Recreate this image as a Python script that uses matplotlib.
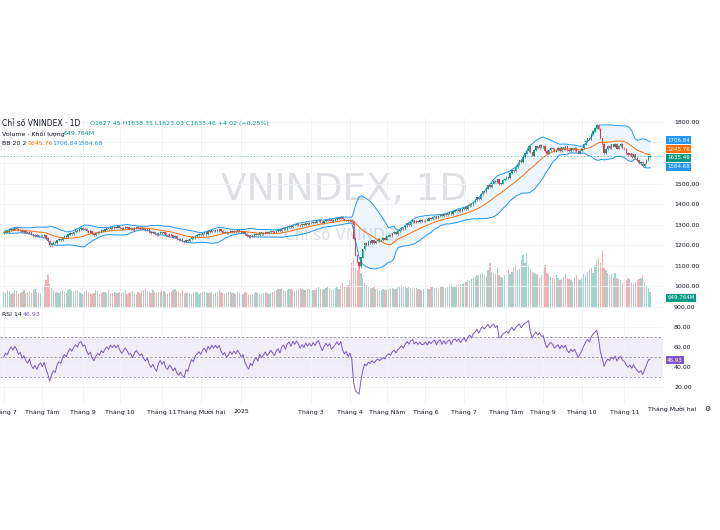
import numpy as np
import matplotlib
matplotlib.use("Agg")
import matplotlib.pyplot as plt

closes = [
1262,1268,1266,1274,1280,1276,1283,1279,1272,1275,1266,1270,1262,1258,1264,1252,1246,1250,1242,1248,1251,
1244,1250,1236,1222,1198,1208,1215,1210,1224,1230,1226,1238,1245,1240,1252,1260,1255,1265,1272,1268,1280,1284,
1276,1280,1270,1262,1268,1256,1250,1259,1265,1262,1272,1268,1276,1282,1278,1288,1284,1290,1286,1292,
1285,1279,1284,1290,1286,1280,1282,1275,1283,1288,1284,1280,1283,1276,1272,1276,1266,1260,1264,1256,1250,1260,1265,
1258,1262,1250,1246,1252,1248,1240,1244,1232,1226,1230,1220,1216,1226,1222,1232,1240,1236,1246,1250,1254,
1250,1258,1262,1256,1268,1264,1272,1268,1274,1270,1276,1268,1262,1266,1258,1262,1268,1264,1270,1266,1272,1268,
1262,1266,1254,1246,1240,1248,1244,1252,1256,1250,1262,1256,1260,1266,1260,1264,1270,1266,
1262,1270,1274,1268,1280,1284,1278,1290,1294,1288,1300,1296,1304,1300,1294,1302,1298,1308,1304,1310,
1306,1314,1310,1318,1322,1314,1308,1318,1324,1320,1326,1318,1322,1328,1334,1330,1338,1326,1320,1324,1316,
1322,1312,1230,1150,1120,1095,1140,1180,1212,1200,1218,1210,1224,1212,1220,1230,1222,1226,1234,1228,
1242,1250,1244,1258,1264,1256,1268,1276,1284,1278,1294,1306,1300,1314,1320,1310,1318,1312,1322,1316,1318,
1326,1320,1332,1328,1336,1340,1332,1342,1348,1340,1352,1346,1354,1360,1352,1364,1370,1366,1374,1368,1376,
1384,1378,1392,1400,1396,1412,1420,1432,1426,1448,1462,1458,1476,1490,1484,1500,1512,1506,1520,1496,1500,1516,1522,
1532,1528,1550,1566,1560,1580,1596,1612,1604,1628,1646,1660,1680,1652,1636,1662,1680,1672,1688,1678,
1682,1660,1646,1662,1674,1668,1656,1664,1672,1660,1676,1668,1680,1664,1658,1670,1664,1672,1660,1648,1660,
1672,1690,1706,1720,1714,1740,1756,1770,1786,1764,1720,1692,1648,1668,1682,1674,1690,1680,1694,1670,1684,1692,1674,
1668,1650,1638,1646,1630,1642,1624,1612,1600,1606,1584,1598,1614,1631.44,1635.46]

volumes = [
620,580,700,650,540,600,720,680,560,610,640,700,590,620,660,580,700,750,640,600,580,
720,900,1100,1300,950,800,700,650,620,600,680,720,640,600,700,750,680,620,660,700,640,
600,560,620,700,650,580,540,600,720,680,560,600,640,620,580,700,560,600,620,580,
600,640,580,620,700,560,600,640,680,600,560,620,580,660,700,740,680,620,600,700,640,600,620,
640,700,680,600,560,580,620,700,740,680,640,600,700,560,600,620,580,540,600,620,640,
560,600,620,680,640,600,580,620,560,600,640,700,620,580,560,600,640,620,580,600,560,620,
600,560,540,620,580,500,520,560,600,620,580,560,540,600,620,580,560,600,
620,680,700,740,760,800,720,680,700,760,740,700,680,720,760,800,740,700,720,760,
760,800,720,700,780,820,740,700,760,800,860,780,720,760,800,820,760,900,1000,880,820,
900,1100,1800,2000,1600,1500,1700,1400,1200,1000,900,850,800,780,820,760,740,720,700,760,
700,720,760,780,800,740,760,820,860,900,880,840,800,820,780,760,800,780,740,760,720,
740,780,800,760,820,840,800,780,760,820,860,840,800,820,860,900,880,860,900,920,940,
960,1000,1050,1100,1080,1150,1200,1250,1300,1280,1350,1400,1300,1250,1500,1800,1450,1400,1350,1600,1300,1250,1200,
1300,1400,1500,1350,1450,1600,1700,1500,1550,1900,2100,1800,2200,1700,1500,1450,1400,1350,1300,1250,
1300,1500,1700,1400,1300,1250,1200,1150,1300,1200,1100,1150,1250,1350,1200,1150,1100,1050,1200,1300,1150,
1100,1200,1350,1300,1450,1500,1600,1400,1700,1900,2000,1800,2300,1600,1500,1400,1300,1350,1250,1400,1200,1150,1100,
1000,1050,1100,1200,1150,1000,950,1050,1100,1150,1200,1300,1050,900,800,649.764]

month_pos = [0,21,43,63,86,107,129,167,188,208,229,250,273,293,314,337]
month_labels = ["Tháng 7","Tháng Tám","Tháng 9","Tháng 10","Tháng 11","Tháng Mười hai","2025",
                "Tháng 3","Tháng 4","Tháng Năm","Tháng 6","Tháng 7","Tháng Tám","Tháng 9","Tháng 10","Tháng 11"]
price_ticks = [900, 1000, 1100, 1200, 1300, 1400, 1500, 1800]

bb_last = {"basis": "1645.76", "upper": "1706.84", "lower": "1584.68"}
rsi_last = "46.93"
vol_last = "649.764M"

c = np.array(closes, float)
n = len(c)
vol = np.array(volumes[:n], float)
o = np.r_[c[0]-4, c[:-1]]
o[-1] = 1627.45
hi = np.maximum(o, c) + 4
lo = np.minimum(o, c) - 4
x = np.arange(n)
up = c >= o
UP, DN = "#089981", "#f23645"

basis = np.array([c[max(0,i-19):i+1].mean() for i in range(n)])
sd = np.array([c[max(0,i-19):i+1].std() for i in range(n)])
ub, lb = basis + 2*sd, basis - 2*sd
d = np.diff(c, prepend=c[0])
g, l = np.clip(d,0,None), np.clip(-d,0,None)
ag = np.zeros(n); al = np.zeros(n)
ag[0], al[0] = 3, 3
for i in range(1, n):
    ag[i] = (ag[i-1]*13 + g[i])/14
    al[i] = (al[i-1]*13 + l[i])/14
rsi = 100 - 100/(1 + ag/np.maximum(al, 1e-9))

W, H = 720, 530
fig = plt.figure(figsize=(W/100, H/100), dpi=100)
plt.rcParams['font.family'] = ['DejaVu Sans']
L, R = 0.0, 663/W
ax = fig.add_axes([L, 1-308/H, R-L, (308-118)/H])
axr = fig.add_axes([L, 1-405/H, R-L, (405-310)/H], sharex=ax)
axv = ax.twinx()

for a in (ax, axr):
    a.set_facecolor("none")
    for s in a.spines.values():
        s.set_visible(False)
    a.grid(color="#f0f3fa", lw=0.6)
    a.tick_params(length=0, labelsize=4.5, colors="#131722", labelleft=False, labelright=True, pad=8)
    a.yaxis.set_label_position("right")

axv.set_ylim(0, vol.max()*3.3)
axv.bar(x, vol, width=0.7, color=np.where(up, UP, DN), alpha=0.4, zorder=0)
axv.axis("off")
ax.set_zorder(axv.get_zorder()+1)

ax.text(0.52, 0.62, "VNINDEX, 1D", transform=ax.transAxes, ha="center", va="center",
        fontsize=27, color="#cfd2d8", alpha=0.7, zorder=0)
ax.text(0.52, 0.38, "Chỉ số VNINDEX", transform=ax.transAxes, ha="center", va="center",
        fontsize=11, color="#cfd2d8", alpha=0.7, zorder=0)

ax.fill_between(x, lb, ub, color="#2196f3", alpha=0.08, lw=0)
ax.plot(x, ub, color="#2196f3", lw=0.7)
ax.plot(x, lb, color="#2196f3", lw=0.7)
ax.plot(x, basis, color="#ff6d00", lw=0.7)
ax.vlines(x, lo, hi, color=np.where(up, UP, DN), lw=0.5)
ax.bar(x, np.abs(c-o)+0.8, bottom=np.minimum(o,c), width=0.7, color=np.where(up, UP, DN))
ax.axhline(c[-1], color=UP, lw=0.6, ls=(0,(2,2)), alpha=0.6)
ax.set_ylim(895, 1819)
ax.set_yticks(range(900, 1900, 100), minor=True)
ax.grid(which="minor", color="#f0f3fa", lw=0.6)
ax.set_yticks(price_ticks)
ax.set_yticklabels([f"{v}.00" for v in price_ticks])
ax.set_xlim(-2, 358)
ax.tick_params(labelbottom=False)
ax.tick_params(which="minor", length=0)

axr.fill_between([-10, 400], 30, 70, color="#7e57c2", alpha=0.1, lw=0)
for v in (30, 50, 70):
    axr.axhline(v, color="#787b86", lw=0.5, ls=(0,(3,3)))
axr.plot(x, rsi, color="#7e57c2", lw=0.7)
axr.set_ylim(2, 97)
axr.set_yticks([20, 40, 60, 80])
axr.set_yticklabels(["20.00", "40.00", "60.00", "80.00"])
axr.set_xticks(month_pos)
axr.set_xticklabels(month_labels)
axr.tick_params(axis="x", labelsize=4.5, pad=3)
fig.text(672/W, 1-409/H, "Tháng Mười hai", fontsize=4.5, ha="center", va="center", color="#131722")
fig.text(707/W, 1-409/H, "⚙", fontsize=5, ha="center", va="center", color="#131722")

def tag(axis, val, txt, col):
    axis.annotate(txt, xy=(1, val), xycoords=("axes fraction", "data"), xytext=(3, 0),
                  textcoords="offset points", fontsize=4, color="white", va="center",
                  bbox=dict(boxstyle="square,pad=0.25", fc=col, ec="none"), annotation_clip=False)
tag(ax, 1712, bb_last["upper"], "#2196f3")
tag(ax, 1668, bb_last["basis"], "#ff6d00")
tag(ax, 1626, f"{c[-1]:.2f}", UP)
tag(ax, 1582, bb_last["lower"], "#2196f3")
tag(ax, 945, vol_last, UP)
tag(axr, 46.93, rsi_last, "#7e57c2")

fs = 4.5
fig.text(2/W, 1-123/H, "Chỉ số VNINDEX · 1D", fontsize=5.5, va="center", color="#131722")
fig.text(90/W, 1-123/H, "O1627.45 H1638.35 L1623.03 C1635.46 +4.02 (+0.25%)", fontsize=fs, va="center", color=UP)
fig.text(2/W, 1-134/H, "Volume · Khối lượng", fontsize=fs, va="center", color="#131722")
fig.text(64/W, 1-134/H, vol_last, fontsize=fs, va="center", color=UP)
fig.text(2/W, 1-144/H, "BB 20 2", fontsize=fs, va="center", color="#131722")
fig.text(27/W, 1-144/H, bb_last["basis"], fontsize=fs, va="center", color="#ff6d00")
fig.text(52/W, 1-144/H, bb_last["upper"], fontsize=fs, va="center", color="#2196f3")
fig.text(77/W, 1-144/H, bb_last["lower"], fontsize=fs, va="center", color="#2196f3")
fig.text(2/W, 1-315/H, "RSI 14", fontsize=fs, va="center", color="#131722")
fig.text(23/W, 1-315/H, rsi_last, fontsize=fs, va="center", color="#7e57c2")

fig.savefig("out.png", dpi=100)
